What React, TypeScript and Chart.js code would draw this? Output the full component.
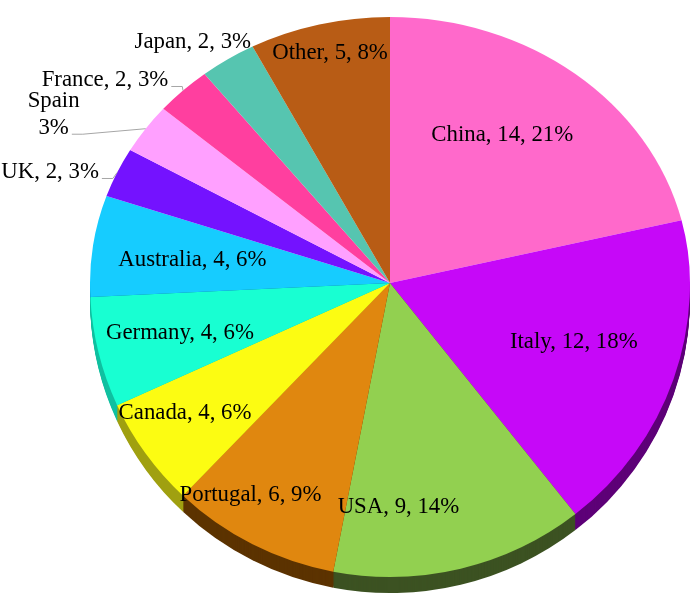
import React, { useEffect, useRef } from "react";
import { Chart, registerables } from "chart.js";

Chart.register(...registerables);

// ---- data ----
const CATEGORIES = ["China", "Italy", "USA", "Portugal", "Canada", "Germany", "Australia", "UK", "Spain", "France", "Japan", "Other"];
const VALUES = [14, 12, 9, 6, 4, 4, 4, 2, 2, 2, 2, 5];

// ---- styles ----
const COLORS = ["#FF69CB", "#C608F8", "#92D050", "#E0870F", "#FCFC12", "#18FFD2", "#16CCFF", "#7412FF", "#FFA0FF", "#FF3F9F", "#56C5B0", "#B85C15"];
const SIDE_COLORS = ["#8A3A6E", "#5E0078", "#3C5222", "#5C3300", "#A0A010", "#10C0A0", "#0A7090", "#3A0880", "#8A5A8A", "#8A2255", "#2E6A60", "#5C2E0A"];

// label placement (radial fraction, offsets); outside labels get leader lines
const LABEL_LAYOUT = [
  { f: 0.708, dx: -19, dy: 0 },
  { f: 0.613, dx: 10, dy: 0 },
  { f: 0.784, dx: -47, dy: 0 },
  { f: 0.811, dx: -28, dy: 0 },
  { f: 0.761, dx: -19, dy: 0 },
  { f: 0.724, dx: 1, dy: 0 },
  { f: 0.605, dx: -18, dy: 0 },
  { f: 1, dx: -67, dy: -1, leader: true },
  { f: 1, dx: -92, dy: -15, leader: true },
  { f: 1, dx: -78, dy: -11, leader: true },
  { f: 1, dx: -35, dy: -18 },
  { f: 0.89, dx: 3, dy: 0 },
];

const W = 700;
const H = 605;
const APEX_Y = 283;
const TOP_RY = 266;
const BOTTOM_RY = 294;
const DEPTH = 16;
const FONT = '24px "Liberation Serif", "Times New Roman", serif';
const TEXT_SX = 0.95;

function labelLines(i: number): string[] {
  const total = VALUES.reduce((a, b) => a + b, 0);
  const pct = Math.round((VALUES[i] / total) * 100) + "%";
  if (CATEGORIES[i] === "Spain") return [CATEGORIES[i], pct];
  return [`${CATEGORIES[i]}, ${VALUES[i]}, ${pct}`];
}

const pie3d = {
  id: "pie3d",
  beforeDatasetsDraw(chart: any) {
    const ctx: CanvasRenderingContext2D = chart.ctx;
    const arcs = chart.getDatasetMeta(0).data as any[];
    if (!arcs.length) return false;
    const cx = arcs[0].x;
    const cy = arcs[0].y;
    const R = arcs[0].outerRadius;
    const syTop = TOP_RY / R;
    const syBot = BOTTOM_RY / R;

    // side (depth) of the lower half
    ctx.save();
    ctx.beginPath();
    ctx.rect(0, APEX_Y, W, H - APEX_Y);
    ctx.clip();
    for (let d = DEPTH; d >= 1; d--) {
      ctx.save();
      ctx.translate(0, APEX_Y + d);
      ctx.scale(1, syBot);
      ctx.translate(0, -cy);
      arcs.forEach((a: any, i: number) => {
        ctx.beginPath();
        ctx.moveTo(cx, cy);
        ctx.arc(cx, cy, R, a.startAngle, a.endAngle);
        ctx.closePath();
        ctx.fillStyle = SIDE_COLORS[i];
        ctx.fill();
      });
      ctx.restore();
    }
    ctx.restore();

    // top faces: upper and lower halves with their own vertical scale
    const halves = [
      { y: 0, h: APEX_Y, sy: syTop },
      { y: APEX_Y, h: H - APEX_Y, sy: syBot },
    ];
    for (const h of halves) {
      ctx.save();
      ctx.beginPath();
      ctx.rect(0, h.y, W, h.h);
      ctx.clip();
      ctx.translate(0, APEX_Y);
      ctx.scale(1, h.sy);
      ctx.translate(0, -cy);
      arcs.forEach((a: any) => a.draw(ctx));
      ctx.restore();
    }
    return false;
  },
  afterDraw(chart: any) {
    const ctx: CanvasRenderingContext2D = chart.ctx;
    const arcs = chart.getDatasetMeta(0).data as any[];
    if (!arcs.length) return;
    const cx = arcs[0].x;
    const R = arcs[0].outerRadius;
    const project = (theta: number, f: number) => {
      const s = Math.sin(theta);
      const ry = s < 0 ? TOP_RY : BOTTOM_RY;
      return { x: cx + R * f * Math.cos(theta), y: APEX_Y + ry * f * s };
    };
    ctx.save();
    ctx.font = FONT;
    ctx.fillStyle = "#000000";
    ctx.textAlign = "center";
    ctx.textBaseline = "middle";
    arcs.forEach((a: any, i: number) => {
      const L = LABEL_LAYOUT[i];
      const mid = (a.startAngle + a.endAngle) / 2;
      const p = project(mid, L.f);
      const lx = p.x + L.dx;
      const ly = p.y + L.dy;
      const lines = labelLines(i);
      const lh = 27;
      const y0 = ly - ((lines.length - 1) * lh) / 2;
      lines.forEach((t, k) => {
        ctx.save();
        ctx.translate(lx, y0 + k * lh);
        ctx.scale(TEXT_SX, 1);
        ctx.fillText(t, 0, 0);
        ctx.restore();
      });
      if (L.leader) {
        const last = lines[lines.length - 1];
        const right = lx + (ctx.measureText(last).width * TEXT_SX) / 2;
        const yy = y0 + (lines.length - 1) * lh + 7;
        const e = project(mid, 1.0);
        ctx.save();
        ctx.strokeStyle = "#A6A6A6";
        ctx.lineWidth = 1;
        ctx.beginPath();
        ctx.moveTo(e.x, e.y);
        ctx.lineTo(right + 14, yy);
        ctx.lineTo(right + 3, yy);
        ctx.stroke();
        ctx.restore();
      }
    });
    ctx.restore();
  },
};

export default function App() {
  const ref = useRef<HTMLCanvasElement | null>(null);
  useEffect(() => {
    if (!ref.current) return;
    const chart = new Chart(ref.current, {
      type: "pie",
      data: {
        labels: CATEGORIES,
        datasets: [
          {
            data: VALUES,
            backgroundColor: COLORS,
            borderWidth: 0,
          },
        ],
      },
      options: {
        responsive: false,
        animation: false,
        events: [],
        layout: { padding: { left: 90, right: 10, top: 2, bottom: 3 } },
        plugins: {
          legend: { display: false },
          tooltip: { enabled: false },
          title: { display: false },
        },
      },
      plugins: [pie3d],
    });
    return () => chart.destroy();
  }, []);
  return (
    <div style={{ position: "absolute", left: 0, top: 0, width: W, height: H, background: "#ffffff" }}>
      <canvas ref={ref} width={W} height={H} style={{ display: "block" }} />
    </div>
  );
}
